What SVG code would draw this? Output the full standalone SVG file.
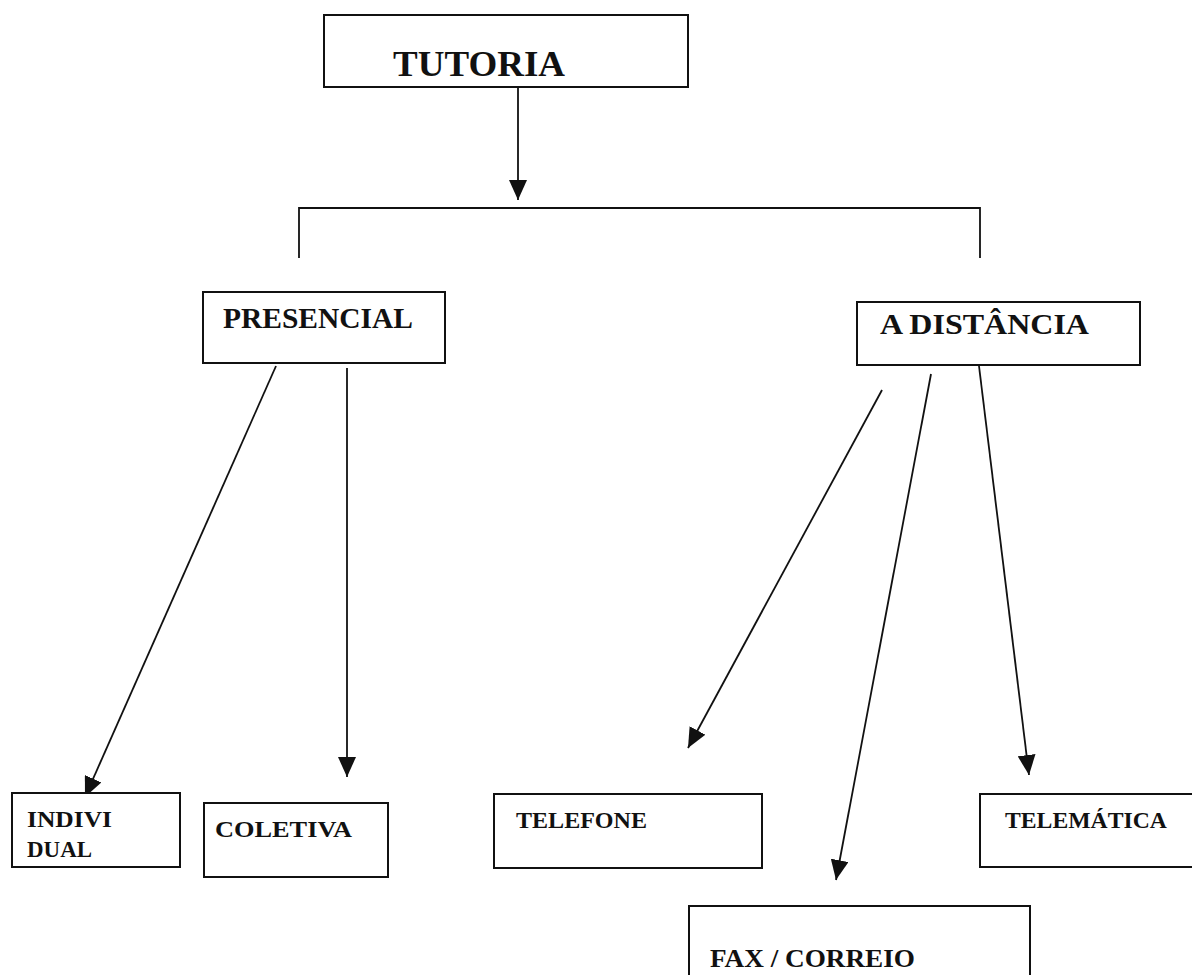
<svg xmlns="http://www.w3.org/2000/svg" width="1192" height="975" viewBox="0 0 1192 975">
<style>
.box{fill:#fff;stroke:#111;stroke-width:2}
.t{font-family:"Liberation Serif","Times New Roman",serif;font-weight:bold;fill:#111}
.c{stroke:#111;stroke-width:1.8;fill:none}
</style>
<defs>
<marker id="ah" markerUnits="userSpaceOnUse" viewBox="0 0 20 18" markerWidth="20" markerHeight="18" refX="20" refY="9" orient="auto">
<path d="M0,0 L20,9 L0,18 z" fill="#111"/>
</marker>
</defs>
<rect width="1192" height="975" fill="#fff"/>
<g id="connectors">
<line class="c" x1="518" y1="87" x2="518" y2="200" marker-end="url(#ah)"/>
<polyline class="c" points="299,258 299,208 980,208 980,258"/>
<line class="c" x1="276" y1="366" x2="85" y2="797" marker-end="url(#ah)"/>
<line class="c" x1="347" y1="368" x2="347" y2="777" marker-end="url(#ah)"/>
<line class="c" x1="882" y1="390" x2="688" y2="748" marker-end="url(#ah)"/>
<line class="c" x1="931" y1="374" x2="836" y2="880" marker-end="url(#ah)"/>
<line class="c" x1="979" y1="366" x2="1029" y2="775" marker-end="url(#ah)"/>
</g>
<g id="tutoria">
<rect class="box" x="324" y="15" width="364" height="72"/>
<text class="t" x="393" y="76" font-size="36" textLength="172" lengthAdjust="spacingAndGlyphs">TUTORIA</text>
</g>
<g id="presencial">
<rect class="box" x="203" y="292" width="242" height="71"/>
<text class="t" x="223" y="328" font-size="29" textLength="190" lengthAdjust="spacingAndGlyphs">PRESENCIAL</text>
</g>
<g id="distancia">
<rect class="box" x="857" y="302" width="283" height="63"/>
<text class="t" x="880" y="334" font-size="30" textLength="209" lengthAdjust="spacingAndGlyphs">A DISTÂNCIA</text>
</g>
<g id="individual">
<rect class="box" x="12" y="793" width="168" height="74"/>
<text class="t" x="27" y="827" font-size="23" textLength="85" lengthAdjust="spacingAndGlyphs">INDIVI</text>
<text class="t" x="27" y="857" font-size="23" textLength="65" lengthAdjust="spacingAndGlyphs">DUAL</text>
</g>
<g id="coletiva">
<rect class="box" x="204" y="803" width="184" height="74"/>
<text class="t" x="215" y="837" font-size="23" textLength="137" lengthAdjust="spacingAndGlyphs">COLETIVA</text>
</g>
<g id="telefone">
<rect class="box" x="494" y="794" width="268" height="74"/>
<text class="t" x="516" y="828" font-size="23" textLength="131" lengthAdjust="spacingAndGlyphs">TELEFONE</text>
</g>
<g id="telematica">
<rect class="box" x="980" y="794" width="230" height="73"/>
<text class="t" x="1005" y="828" font-size="23" textLength="162" lengthAdjust="spacingAndGlyphs">TELEMÁTICA</text>
</g>
<g id="fax">
<rect class="box" x="689" y="906" width="341" height="90"/>
<text class="t" x="710" y="967" font-size="25" textLength="205" lengthAdjust="spacingAndGlyphs">FAX / CORREIO</text>
</g>
</svg>
